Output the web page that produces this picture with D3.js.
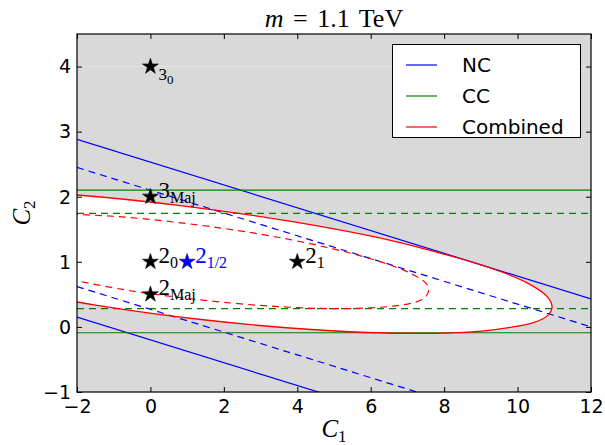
<!DOCTYPE html>
<html>
<head>
<meta charset="utf-8">
<script src="https://cdn.jsdelivr.net/npm/d3@7"></script>
<style>
  html, body { margin: 0; padding: 0; background: #ffffff; }
  svg { display: block; }
</style>
</head>
<body>
<svg id="chart" width="605" height="445"></svg>
<script>
// Axis ticks
const xTicks = [-2, 0, 2, 4, 6, 8, 10, 12];
const yTicks = [-1, 0, 1, 2, 3, 4];

// NC bounds: straight lines given by their C2 value at C1 = -2 and C1 = 12
const ncSolid  = [[[-2, 2.88], [12, 0.43]], [[-2, 0.15], [12, -2.30]]];
const ncDashed = [[[-2, 2.45], [12, 0.00]], [[-2, 0.62], [12, -1.83]]];

// CC bounds: horizontal lines at fixed C2
const ccSolid  = [2.10, -0.09];
const ccDashed = [1.745, 0.28];

// Combined contours (C1, C2), traced round the ellipse
const combSolid = [
  [-3.92, 2.08], [-2.09, 2.03], [0.87, 1.86], [3.83, 1.62], [6.54, 1.33],
  [7.72, 1.16], [8.74, 1.00], [9.59, 0.84], [10.25, 0.68], [10.80, 0.47],
  [10.94, 0.31], [10.81, 0.17], [10.45, 0.07], [9.87, 0.00], [9.09, -0.06],
  [7.23, -0.10], [4.38, -0.04], [1.44, 0.11], [-1.54, 0.34], [-3.41, 0.53]
];
const combDashed = [
  [-2.82, 1.74], [-1.02, 1.70], [0.96, 1.59], [2.94, 1.43], [4.74, 1.23],
  [6.21, 1.01], [7.10, 0.82], [7.52, 0.66], [7.57, 0.54], [7.45, 0.44],
  [7.15, 0.37], [6.42, 0.31], [5.17, 0.28], [3.26, 0.32], [1.29, 0.42],
  [-0.70, 0.57], [-2.54, 0.77]
];

// Benchmark points
const benchC1   = [0, 0, 0, 4, 0, 1];
const benchC2   = [4, 2, 1, 1, 0.5, 1];
const benchMain = ["3", "3", "2", "2", "2", "2"];
const benchSub  = ["0", "Maj", "0", "1", "Maj", "1/2"];
const benchBlue = [false, false, false, false, false, true];

// Legend entries
const legendNames  = ["NC", "CC", "Combined"];
const legendColors = ["#0000ff", "#008000", "#ff0000"];

const svg = d3.select("#chart");
const L = 77, R = 591, T = 34, B = 392;
const x = d3.scaleLinear().domain([-2, 12]).range([L, R]);
const y = d3.scaleLinear().domain([-1, 4.5]).range([B, T]);

svg.append("defs").append("clipPath").attr("id", "plotclip")
  .append("rect").attr("x", L).attr("y", T).attr("width", R - L).attr("height", B - T);

const plot = svg.append("g").attr("clip-path", "url(#plotclip)");

// excluded region shaded grey
plot.append("rect").attr("x", L).attr("y", T).attr("width", R - L).attr("height", B - T)
  .attr("fill", "#d9d9d9");
plot.append("line")
  .attr("x1", x(-2)).attr("x2", x(12)).attr("y1", y(4)).attr("y2", y(4))
  .attr("stroke", "#e6e6e6").attr("stroke-width", 1);

const curve = d3.line().x(d => x(d[0])).y(d => y(d[1])).curve(d3.curveCatmullRom.alpha(0.5));

// allowed region (inside combined solid contour) in white
plot.append("path").attr("d", curve(combSolid) + "Z").attr("fill", "#ffffff");

const dash = "7,5";
const straight = d3.line().x(d => x(d[0])).y(d => y(d[1]));

ncSolid.forEach(s => plot.append("path").attr("d", straight(s))
  .attr("stroke", "#0000ff").attr("stroke-width", 1.2).attr("fill", "none"));
ncDashed.forEach(s => plot.append("path").attr("d", straight(s))
  .attr("stroke", "#0000ff").attr("stroke-width", 1.2).attr("fill", "none")
  .attr("stroke-dasharray", dash));

ccSolid.forEach(v => plot.append("line").attr("x1", x(-2)).attr("x2", x(12))
  .attr("y1", y(v)).attr("y2", y(v))
  .attr("stroke", "#008000").attr("stroke-width", 1.2));
ccDashed.forEach(v => plot.append("line").attr("x1", x(-2)).attr("x2", x(12))
  .attr("y1", y(v)).attr("y2", y(v))
  .attr("stroke", "#008000").attr("stroke-width", 1.2).attr("stroke-dasharray", dash));

plot.append("path").attr("d", curve(combSolid)).attr("fill", "none")
  .attr("stroke", "#ff0000").attr("stroke-width", 1.3);
plot.append("path").attr("d", curve(combDashed)).attr("fill", "none")
  .attr("stroke", "#ff0000").attr("stroke-width", 1.2).attr("stroke-dasharray", dash);

// benchmark stars and labels
const star = d3.symbol().type(d3.symbolStar).size(78);
const serif = "'Liberation Serif', 'DejaVu Serif', serif";
benchC1.forEach((c1, i) => {
  const px = x(c1), py = y(benchC2[i]);
  const col = benchBlue[i] ? "#0000ff" : "#000000";
  svg.append("path").attr("d", star()).attr("transform", `translate(${px},${py})`)
    .attr("fill", col).attr("stroke", col === "#000000" ? "#000" : "#00008b").attr("stroke-width", 0.6);
  const small = benchSub[i] === "0" && benchC2[i] === 4;
  const t = svg.append("text")
    .attr("x", px + 8).attr("y", py + (small ? 13 : 1))
    .attr("font-family", serif).attr("fill", col);
  t.append("tspan").attr("font-size", small ? 17 : 23).text(benchMain[i]);
  t.append("tspan").attr("font-size", small ? 13 : 16).attr("dy", small ? 4 : 5).text(benchSub[i]);
});

// axes
const intFmt = d3.format("d");
const gx = svg.append("g").attr("transform", `translate(0,${B})`)
  .call(d3.axisBottom(x).tickValues(xTicks).tickFormat(intFmt)
    .tickSizeInner(-5).tickSizeOuter(0).tickPadding(8));
const gxTop = svg.append("g").attr("transform", `translate(0,${T})`)
  .call(d3.axisTop(x).tickValues(xTicks).tickSizeInner(-5).tickSizeOuter(0).tickFormat(""));
const gy = svg.append("g").attr("transform", `translate(${L},0)`)
  .call(d3.axisLeft(y).tickValues(yTicks).tickFormat(intFmt)
    .tickSizeInner(-5).tickSizeOuter(0).tickPadding(6));
const gyR = svg.append("g").attr("transform", `translate(${R},0)`)
  .call(d3.axisRight(y).tickValues(yTicks).tickSizeInner(-5).tickSizeOuter(0).tickFormat(""));

[gx, gxTop, gy, gyR].forEach(g => {
  g.select(".domain").remove();
  g.selectAll(".tick line").attr("stroke", "#000").attr("stroke-width", 1);
  g.selectAll("text").attr("font-family", "'DejaVu Sans', sans-serif").attr("font-size", 19).attr("fill", "#000");
});
gx.selectAll("text").attr("dy", "0.7em");
gy.selectAll("text").attr("dy", "0.33em");

svg.append("rect").attr("x", L).attr("y", T).attr("width", R - L).attr("height", B - T)
  .attr("fill", "none").attr("stroke", "#000").attr("stroke-width", 1.2);

// legend
const lg = svg.append("g");
lg.append("rect").attr("x", 392.5).attr("y", 44.5).attr("width", 188).attr("height", 93)
  .attr("fill", "#ffffff").attr("stroke", "#000").attr("stroke-width", 1);
legendNames.forEach((name, i) => {
  const yy = 65 + i * 31;
  lg.append("line").attr("x1", 406).attr("x2", 437).attr("y1", yy).attr("y2", yy)
    .attr("stroke", legendColors[i]).attr("stroke-width", 1.2);
  lg.append("text").attr("x", 462).attr("y", yy + 7)
    .attr("font-family", "'DejaVu Sans', sans-serif").attr("font-size", 20).text(name);
});

// title
const title = svg.append("text").attr("x", (L + R) / 2).attr("y", 27)
  .attr("text-anchor", "middle").attr("font-family", serif).attr("font-size", 26)
  .attr("word-spacing", 3);
title.append("tspan").attr("font-style", "italic").text("m");
title.append("tspan").text(" = 1.1 TeV");

// axis titles
const xl = svg.append("text").attr("x", (L + R) / 2).attr("y", 437)
  .attr("text-anchor", "middle").attr("font-family", serif);
xl.append("tspan").attr("font-style", "italic").attr("font-size", 25).text("C");
xl.append("tspan").attr("font-size", 17).attr("dy", 5).text("1");

const yl = svg.append("text").attr("transform", `translate(30,${(T + B) / 2}) rotate(-90)`)
  .attr("text-anchor", "middle").attr("font-family", serif);
yl.append("tspan").attr("font-style", "italic").attr("font-size", 25).text("C");
yl.append("tspan").attr("font-size", 17).attr("dy", 5).text("2");
</script>
</body>
</html>
